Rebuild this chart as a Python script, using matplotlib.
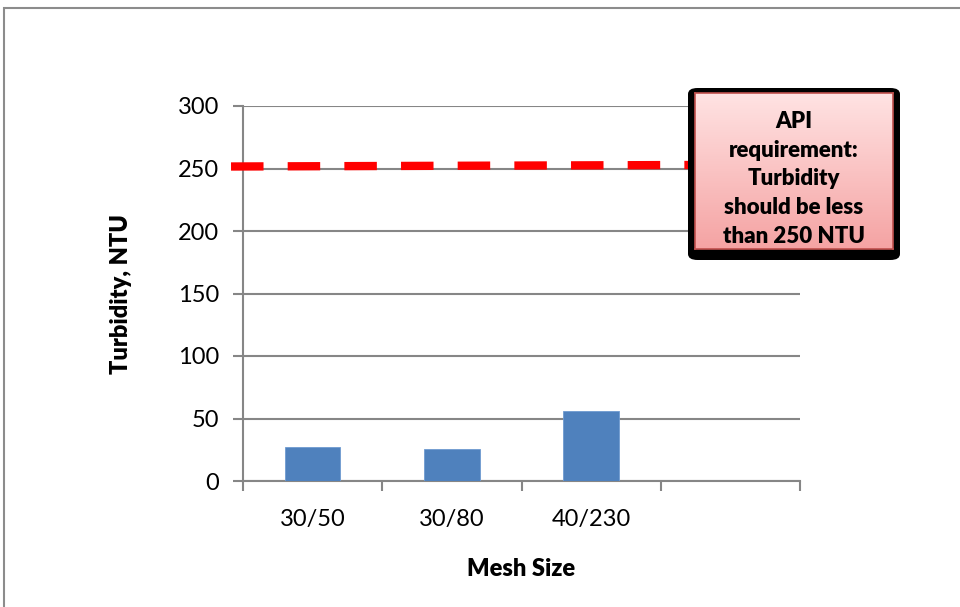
import numpy as np
import matplotlib.pyplot as plt
from matplotlib.patches import Rectangle, FancyBboxPatch
from matplotlib.colors import LinearSegmentedColormap

# data
categories = ['30/50', '30/80', '40/230', '']
turbidity = [27, 25.7, 55.7, 0]
api_limit_x = [-0.586, 2.71]
api_limit_y = [251.6, 252.8]
y_ticks = [0, 50, 100, 150, 200, 250, 300]

plt.rcParams['font.family'] = ['Lato', 'DejaVu Sans']
FS = 17

fig = plt.figure(figsize=(9.6, 6.07), dpi=100)
W, H = 960, 607

def fx(px):
    return px / W

def fy(py):
    return 1 - py / H

# outer chart border
fig.patches.append(Rectangle((fx(4), -0.1), 1.2, fy(8) + 0.1, transform=fig.transFigure,
                             fill=False, edgecolor='#8c8c8c', linewidth=1.5))

ax = fig.add_axes([fx(243), fy(481), fx(800) - fx(243), fy(106) - fy(481)])
x = np.arange(len(categories))
ax.bar(x, turbidity, width=0.4, color='#4f81bd', edgecolor='#6f9bd1', linewidth=0.6, zorder=3)

ax.set_xlim(-0.5, 3.5)
ax.set_ylim(0, 300)
ax.set_yticks(y_ticks)
ax.set_xticks(x)
ax.set_xticklabels(categories, fontsize=FS)
ax.set_xticks(np.arange(-0.5, 3.6, 1), minor=True)
ax.tick_params(axis='x', which='major', length=0, pad=20)
ax.tick_params(axis='x', which='minor', length=7, width=1.5, color='#868686', direction='out')
ax.tick_params(axis='y', length=7, width=1.5, color='#868686', direction='out', labelsize=FS, pad=10)
ax.yaxis.grid(True, color='#868686', linewidth=1.5, zorder=0)
for s in ['top', 'right']:
    ax.spines[s].set_visible(False)
for s in ['left', 'bottom']:
    ax.spines[s].set_color('#868686')
    ax.spines[s].set_linewidth(1.5)

ax.set_xlabel('Mesh Size', fontsize=FS, fontweight='heavy', labelpad=20)
ax.set_ylabel('Turbidity, NTU', fontsize=FS, fontweight='heavy', labelpad=33)

# API requirement line
ax.plot(api_limit_x, api_limit_y, color='#ff0000', linewidth=6,
        dashes=(3.9, 2.9), clip_on=False, zorder=4)

# callout box shadow
fig.patches.append(FancyBboxPatch((fx(688), fy(260)), fx(900) - fx(688), fy(88) - fy(260),
                                  boxstyle='round,pad=0,rounding_size=0.01',
                                  transform=fig.transFigure, facecolor='black',
                                  edgecolor='none', zorder=5))

# callout box with gradient
bax = fig.add_axes([fx(695), fy(249), fx(893) - fx(695), fy(93) - fy(249)], zorder=6)
grad = np.linspace(0, 1, 256).reshape(-1, 1)
cmap = LinearSegmentedColormap.from_list('pink', ['#ffe3e3', '#f5a3a3'])
bax.imshow(grad, aspect='auto', cmap=cmap, extent=[0, 1, 0, 1], origin='upper')
bax.set_xticks([])
bax.set_yticks([])
for s in bax.spines.values():
    s.set_color('#c0504d')
    s.set_linewidth(1.2)
bax.text(0.5, 0.45, 'API\nrequirement:\nTurbidity\nshould be less\nthan 250 NTU',
         ha='center', va='center', fontsize=16, fontweight='heavy',
         linespacing=1.45, transform=bax.transAxes)

fig.savefig('out.png', dpi=100)
